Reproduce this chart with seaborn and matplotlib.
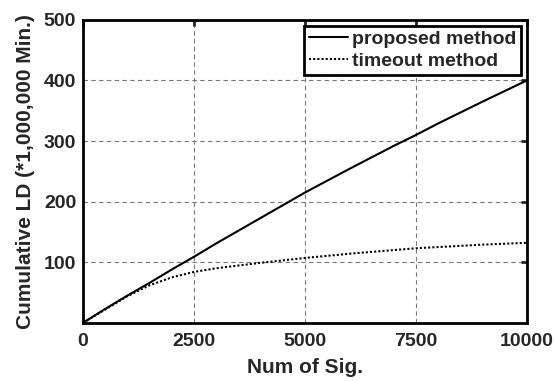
import matplotlib
matplotlib.use("Agg")
import matplotlib.pyplot as plt
import seaborn as sns
import pandas as pd

# values
num_sig = [0, 500, 1000, 1500, 2000, 2500, 3000, 4000, 5000, 6000, 7000, 7500, 8000, 9000, 10000]
proposed = [0, 23, 45, 66, 88, 109, 131, 173, 215, 254, 292, 310, 329, 365, 400]
timeout = [0, 22, 44, 62, 75, 84, 90, 99, 107, 114, 120, 123, 125, 129, 132]

df = pd.DataFrame({
    "sig": num_sig * 2,
    "ld": proposed + timeout,
    "method": ["proposed method"] * len(num_sig) + ["timeout method"] * len(num_sig),
})

sns.set_style("white")
plt.rcParams['font.family'] = ['Liberation Sans', 'DejaVu Sans']
plt.rcParams['font.weight'] = 'bold'

fig, ax = plt.subplots(figsize=(5.54, 3.82), dpi=100)
sns.lineplot(data=df, x="sig", y="ld", hue="method", style="method",
             palette=["black", "black"], dashes=[(None, None), (1, 1)],
             linewidth=1.5, ax=ax)

ax.set_xlim(0, 10000)
ax.set_ylim(0, 500)
ax.set_xticks([0, 2500, 5000, 7500, 10000])
ax.set_yticks([100, 200, 300, 400, 500])
ax.tick_params(direction='in', length=4, width=2, labelsize=14, top=True, right=True)
ax.tick_params(axis='x', pad=7)
ax.tick_params(axis='y', pad=5)
for lbl in ax.get_xticklabels() + ax.get_yticklabels():
    lbl.set_fontweight('bold')

ax.grid(True, linestyle=(0, (4, 3)), color='#777777', linewidth=0.8)
for s in ax.spines.values():
    s.set_linewidth(2)
    s.set_color('black')

ax.set_xlabel("Num of Sig.", fontsize=15, fontweight='bold', labelpad=6)
ax.set_ylabel("Cumulative LD (*1,000,000 Min.)", fontsize=15, fontweight='bold', labelpad=6)

leg = ax.legend(loc='upper right', fontsize=14, fancybox=False, framealpha=1,
                edgecolor='black', borderaxespad=0.3, handlelength=2.0,
                handletextpad=0.2, borderpad=0.25, labelspacing=0.2)
leg.get_frame().set_linewidth(2)
for t in leg.get_texts():
    t.set_fontweight('bold')

plt.subplots_adjust(left=0.15, right=0.951, top=0.948, bottom=0.155)
plt.savefig("out.png", dpi=100)
